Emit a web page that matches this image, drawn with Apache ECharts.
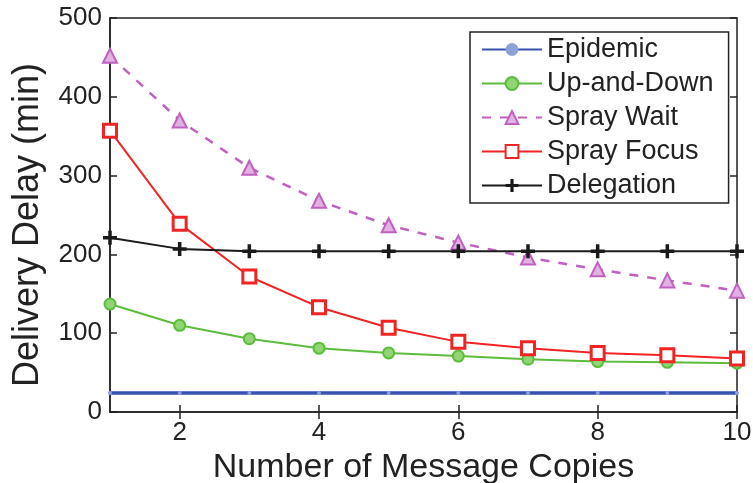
<!DOCTYPE html>
<html><head><meta charset="utf-8">
<script src="https://cdn.jsdelivr.net/npm/echarts@6/dist/echarts.min.js"></script>
<style>html,body{margin:0;padding:0;background:#fff}#c{width:753px;height:483px}</style>
</head><body><div id="c"></div>
<script>
const copies = [1,2,3,4,5,6,7,8,9,10];
const epidemic = [24,24,24,24,24,24,24,24,24,24];
const upAndDown = [137,110,93,81,75,71,67,64,63,62];
const sprayWait = [452,370,310,268,237,215,196,181,167,154];
const sprayFocus = [357,239,172,133,107,89,81,75,72,68];
const delegation = [221,207,204,204,204,204,204,204,204,204];
const xTicks = [2,4,6,8,10];
const yTicks = [0,100,200,300,400,500];

const pair = arr => copies.map((c,i)=>[c,arr[i]]);
const plus = 'path://M-1.5,-6 h3 v4.5 h4.5 v3 h-4.5 v4.5 h-3 v-4.5 h-4.5 v-3 h4.5 z';
const font = 'Liberation Sans';

const chart = echarts.init(document.getElementById('c'));
chart.setOption({
  animation:false,
  textStyle:{fontFamily:font},
  grid:{left:110,right:16,top:18,bottom:71,show:true,borderColor:'#222',borderWidth:1.5,
        containLabel:false,outerBoundsMode:'none'},
  legend:{
    left:470, top:32, orient:'vertical', itemWidth:60, itemHeight:16, itemGap:7,
    borderColor:'#222', borderWidth:1.5, padding:[4,15,4,11], backgroundColor:'#fff',
    textStyle:{fontFamily:font,fontSize:27,color:'#222'},
    data:['Epidemic','Up-and-Down','Spray Wait','Spray Focus','Delegation']
  },
  xAxis:[{
    type:'value', min:1, max:10,
    name:'Number of Message Copies', nameLocation:'middle', nameGap:30,
    nameTextStyle:{fontSize:34,color:'#222',fontFamily:font},
    axisLine:{lineStyle:{color:'#222',width:1.5}},
    axisTick:{inside:true,length:7,customValues:xTicks,lineStyle:{color:'#222',width:1.5}},
    axisLabel:{customValues:xTicks,fontSize:26,color:'#222',margin:8,fontFamily:font},
    splitLine:{show:false}
  },{
    type:'value', min:1, max:10, position:'top',
    axisLine:{show:false},
    axisTick:{inside:true,length:7,customValues:xTicks,lineStyle:{color:'#222',width:1.5}},
    axisLabel:{show:false}, splitLine:{show:false}
  }],
  yAxis:[{
    type:'value', min:0, max:500, interval:100,
    name:'Delivery Delay (min)', nameLocation:'middle', nameGap:64,
    nameTextStyle:{fontSize:36,color:'#222',fontFamily:font,padding:[0,20,0,0]},
    axisLine:{show:true,lineStyle:{color:'#222',width:1.5}},
    axisTick:{inside:true,length:7,lineStyle:{color:'#222',width:1.5}},
    axisLabel:{fontSize:26,color:'#222',margin:8,fontFamily:font},
    splitLine:{show:false}
  },{
    type:'value', min:0, max:500, interval:100, position:'right',
    axisLine:{show:false},
    axisTick:{show:true,inside:true,length:7,lineStyle:{color:'#222',width:1.5}},
    axisLabel:{show:false}, splitLine:{show:false}
  }],
  series:[
    {name:'Epidemic',type:'line',data:pair(epidemic),symbol:'circle',symbolSize:4,
     lineStyle:{color:'#3552b0',width:3.5},itemStyle:{color:'#8ea0d8',borderWidth:0}},
    {name:'Up-and-Down',type:'line',data:pair(upAndDown),symbol:'circle',symbolSize:11,
     lineStyle:{color:'#5cbc3c',width:2},itemStyle:{color:'#8fd475',borderColor:'#5cbc3c',borderWidth:2}},
    {name:'Spray Wait',type:'line',data:pair(sprayWait),symbol:'triangle',symbolSize:14,
     lineStyle:{color:'#c060c0',width:2.5,type:[9,9]},itemStyle:{color:'#e2b0e2',borderColor:'#c060c0',borderWidth:2}},
    {name:'Spray Focus',type:'line',data:pair(sprayFocus),symbol:'rect',symbolSize:13,
     lineStyle:{color:'#f02424',width:2},itemStyle:{color:'#fff',borderColor:'#f02424',borderWidth:3}},
    {name:'Delegation',type:'line',data:pair(delegation),symbol:plus,symbolSize:14,
     lineStyle:{color:'#1a1a1a',width:2},itemStyle:{color:'#1a1a1a',borderWidth:0}}
  ]
});
</script></body></html>
